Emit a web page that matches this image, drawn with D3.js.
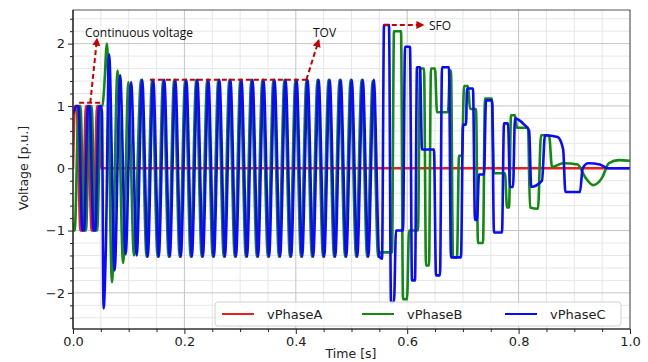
<!DOCTYPE html>
<html>
<head>
<meta charset="utf-8">
<script src="https://cdn.jsdelivr.net/npm/d3@7"></script>
<style>
  body { margin: 0; background: #fff; }
  text { font-family: "DejaVu Sans", sans-serif; }
  .note { font-family: "Open Sans", sans-serif; font-size: 12px; fill: #111; }
</style>
</head>
<body>
<script>
// ---- data: [time s, voltage p.u.] turning points ----
var phaseA = [[0,0],[0.0035,1],[0.0065,1],[0.0135,-1],[0.0165,-1],[0.0235,1],[0.0265,1],
  [0.0335,-1],[0.0365,-1],[0.0435,1],[0.0465,1],[0.0505,0],[0.2,0],[0.6,0],[1.0,0]];

var phaseB = [[0,-0.87],[0.0005,-1],[0.003,-1],[0.0102,1],[0.0132,1],[0.0202,-1],[0.0232,-1],
  [0.0302,1],[0.0332,1],[0.0402,-1],[0.0432,-1],[0.0502,1],[0.053,1],[0.056,1.3],
  [0.0610,2.0],[0.0700,-1.83],[0.0800,1.57],[0.0900,-1.52],[0.0995,1.38],[0.1095,-1.40],
  [0.1222,1.42],[0.1321,-1.42],[0.1420,1.42],[0.1519,-1.42],[0.1618,1.42],[0.1717,-1.42],
  [0.1816,1.42],[0.1915,-1.42],[0.2014,1.42],[0.2113,-1.42],[0.2212,1.42],[0.2311,-1.42],
  [0.2410,1.42],[0.2509,-1.42],[0.2608,1.42],[0.2707,-1.42],[0.2806,1.42],[0.2905,-1.42],
  [0.3004,1.42],[0.3103,-1.42],[0.3202,1.42],[0.3301,-1.42],[0.3400,1.42],[0.3499,-1.42],
  [0.3598,1.42],[0.3697,-1.42],[0.3796,1.42],[0.3895,-1.42],[0.3994,1.42],[0.4093,-1.42],
  [0.4192,1.42],[0.4291,-1.42],[0.4390,1.42],[0.4489,-1.42],[0.4588,1.42],[0.4687,-1.42],
  [0.4786,1.42],[0.4885,-1.42],[0.4984,1.42],[0.5083,-1.42],[0.5182,1.42],[0.5281,-1.42],
  [0.5380,1.40],[0.5479,-1.42],
  [0.552,-1.35],[0.5727,-1.35],[0.5763,2.2],[0.5889,2.2],[0.5925,-2.1],[0.5997,-2.1],
  [0.6033,-1.0],[0.6194,-1.0],[0.6230,1.6],[0.6302,1.6],[0.6338,-1.56],[0.6391,-1.56],
  [0.6427,1.6],[0.6499,1.6],[0.6535,0.9],[0.6732,0.9],[0.6768,1.57],[0.6786,1.57],
  [0.6822,-1.43],[0.6894,-1.43],[0.6930,0.2],[0.6984,0.2],[0.7020,1.32],[0.7092,1.32],
  [0.7128,0.95],[0.7235,0.95],[0.7271,-1.2],[0.7361,-1.2],[0.7397,1.12],[0.7522,1.12],
  [0.7558,-0.08],[0.7756,-0.08],[0.7792,-0.63],[0.7828,-0.63],[0.7864,0.85],[0.7935,0.85],
  [0.7971,0.65],[0.8169,0.65],[0.8205,-0.63],[0.8348,-0.65],[0.8402,0.53],[0.8546,0.53],
  [0.8600,0.02],[0.8797,0.08],[0.9060,0.06],[0.9200,-0.15],[0.9340,-0.27],[0.9500,-0.15],
  [0.9620,0.08],[0.9800,0.13],[1.0,0.12]];

var phaseC = [[0,0.87],[0.0068,1],[0.0098,1],[0.0168,-1],[0.0198,-1],[0.0268,1],[0.0298,1],
  [0.0368,-1],[0.0398,-1],[0.0468,1],[0.0498,1],[0.0520,0.9],[0.0549,-2.25],[0.0590,-1.27],
  [0.0648,1.83],[0.0747,-1.64],[0.0846,1.49],[0.0945,-1.38],[0.1044,1.38],[0.1143,-1.40],
  [0.1242,1.42],[0.1341,-1.42],[0.1440,1.42],[0.1539,-1.42],[0.1638,1.42],[0.1737,-1.42],
  [0.1836,1.42],[0.1935,-1.42],[0.2034,1.42],[0.2133,-1.42],[0.2232,1.42],[0.2331,-1.42],
  [0.2430,1.42],[0.2529,-1.42],[0.2628,1.42],[0.2727,-1.42],[0.2826,1.42],[0.2925,-1.42],
  [0.3024,1.42],[0.3123,-1.42],[0.3222,1.42],[0.3321,-1.42],[0.3420,1.42],[0.3519,-1.42],
  [0.3618,1.42],[0.3717,-1.42],[0.3816,1.42],[0.3915,-1.42],[0.4014,1.42],[0.4113,-1.42],
  [0.4212,1.42],[0.4311,-1.42],[0.4410,1.42],[0.4509,-1.42],[0.4608,1.42],[0.4707,-1.42],
  [0.4806,1.42],[0.4905,-1.42],[0.5004,1.42],[0.5103,-1.42],[0.5202,1.42],[0.5301,-1.42],
  [0.5400,1.42],[0.5499,-1.42],
  [0.5548,-1.45],[0.5584,2.3],[0.5673,2.3],[0.5709,-2.15],[0.5763,-2.15],[0.5799,-1.0],
  [0.5925,-1.0],[0.5961,1.95],[0.6050,1.95],[0.6086,-1.8],[0.6140,-1.8],[0.6176,1.62],
  [0.6230,1.62],[0.6266,0.3],[0.6481,0.3],[0.6517,-1.72],[0.6589,-1.72],[0.6625,1.62],
  [0.6750,1.62],[0.6786,-1.43],[0.6966,-1.43],[0.7002,0.7],[0.7056,0.7],[0.7074,1.28],
  [0.7181,1.28],[0.7217,-0.83],[0.7253,-0.83],[0.7289,-0.1],[0.7379,-0.1],[0.7415,1.09],
  [0.7522,1.09],[0.7558,-1.03],[0.7702,-1.03],[0.7738,0.72],[0.7810,0.72],[0.7846,-0.3],
  [0.7900,-0.3],[0.7935,0.8],[0.8100,0.7],[0.8190,0.6],[0.8226,-0.3],[0.8420,-0.2],
  [0.8474,0.53],[0.8700,0.5],[0.8800,0.3],[0.8840,-0.38],[0.9102,-0.38],[0.9150,0.0],
  [0.9250,0.08],[0.9460,0.06],[0.9600,0.0],[1.0,0.0]];

var seriesNames = ["vPhaseA", "vPhaseB", "vPhaseC"];
var seriesColors = ["#f01c1c", "#108a10", "#0a0aff"];
var xMajor = [0, 0.2, 0.4, 0.6, 0.8, 1.0];
var yMajor = [-2, -1, 0, 1, 2];

// ---- chart ----
var W = 648, H = 362;
var svg = d3.select("body").append("svg").attr("width", W).attr("height", H);

var x = d3.scaleLinear().domain([0, 1]).range([73, 630]);
var y = d3.scaleLinear().domain([-2.58, 2.54]).range([329, 10]);

var xMinor = d3.range(0, 1.0001, 0.05).filter(function(d) { return Math.abs(d * 5 - Math.round(d * 5)) > 1e-6; });
var yMinor = d3.range(-2.4, 2.41, 0.2).filter(function(d) { return Math.abs(d - Math.round(d)) > 1e-6; });

var grid = svg.append("g");
grid.selectAll(".vmin").data(xMinor).enter().append("line")
  .attr("x1", x).attr("x2", x).attr("y1", 10).attr("y2", 329)
  .attr("stroke", "#e6e6e6").attr("stroke-width", 1);
grid.selectAll(".hmin").data(yMinor).enter().append("line")
  .attr("y1", y).attr("y2", y).attr("x1", 73).attr("x2", 630)
  .attr("stroke", "#e6e6e6").attr("stroke-width", 1);
grid.selectAll(".vmaj").data(xMajor).enter().append("line")
  .attr("x1", x).attr("x2", x).attr("y1", 10).attr("y2", 329)
  .attr("stroke", "#c4c4c4").attr("stroke-width", 1);
grid.selectAll(".hmaj").data(yMajor).enter().append("line")
  .attr("y1", y).attr("y2", y).attr("x1", 73).attr("x2", 630)
  .attr("stroke", "#c4c4c4").attr("stroke-width", 1);

svg.append("clipPath").attr("id", "plot").append("rect")
  .attr("x", 73).attr("y", 10).attr("width", 557).attr("height", 319);

var line = d3.line()
  .x(function(d) { return x(d[0]); })
  .y(function(d) { return y(d[1]); })
  .curve(d3.curveMonotoneX);

svg.append("g").attr("clip-path", "url(#plot)")
  .selectAll("path").data([phaseA, phaseB, phaseC]).enter().append("path")
  .attr("d", line)
  .attr("fill", "none")
  .attr("stroke", function(d, i) { return seriesColors[i]; })
  .attr("stroke-width", 2.6)
  .attr("stroke-linejoin", "round");

// frame
svg.append("rect").attr("x", 73).attr("y", 10).attr("width", 557).attr("height", 319)
  .attr("fill", "none").attr("stroke", "#555").attr("stroke-width", 1);

// axes
function styleAxis(g) {
  g.select(".domain").remove();
  g.selectAll(".tick line").attr("stroke", "#222");
  g.selectAll(".tick text").attr("fill", "#222").style("font-size", "13px");
}
svg.append("g").attr("transform", "translate(0,329)")
  .call(d3.axisBottom(x).tickValues(xMajor).tickSize(5).tickPadding(3).tickFormat(d3.format(".1f")))
  .call(styleAxis);
svg.append("g").attr("transform", "translate(0,329)")
  .call(d3.axisBottom(x).tickValues(xMinor).tickSize(3).tickFormat(""))
  .call(styleAxis);
svg.append("g").attr("transform", "translate(73,0)")
  .call(d3.axisLeft(y).tickValues(yMajor).tickSize(5).tickPadding(3)
    .tickFormat(function(d) { return d < 0 ? "\u2212" + (-d) : d; }))
  .call(styleAxis);
svg.append("g").attr("transform", "translate(73,0)")
  .call(d3.axisLeft(y).tickValues(yMinor).tickSize(3).tickFormat(""))
  .call(styleAxis);
svg.append("line").attr("x1", 73).attr("x2", 73).attr("y1", 10).attr("y2", 329)
  .attr("stroke", "#222").attr("stroke-width", 1.2);
svg.append("line").attr("x1", 73).attr("x2", 630).attr("y1", 329).attr("y2", 329)
  .attr("stroke", "#222").attr("stroke-width", 1.2);

svg.append("text").attr("x", 351).attr("y", 358).attr("text-anchor", "middle")
  .style("font-size", "12.5px").attr("fill", "#222").text("Time [s]");
svg.append("text").attr("transform", "translate(28,168) rotate(-90)").attr("text-anchor", "middle")
  .style("font-size", "12.5px").attr("fill", "#222").text("Voltage [p.u.]");

// legend
var lg = svg.append("g");
lg.append("rect").attr("x", 215).attr("y", 302).attr("width", 406).attr("height", 24).attr("rx", 3)
  .attr("fill", "#fff").attr("fill-opacity", 0.85).attr("stroke", "#d0d0d0");
var legX = [222, 362, 505];
seriesNames.forEach(function(n, i) {
  lg.append("line").attr("x1", legX[i]).attr("x2", legX[i] + 32).attr("y1", 314).attr("y2", 314)
    .attr("stroke", seriesColors[i]).attr("stroke-width", 2);
  lg.append("text").attr("x", legX[i] + 45).attr("y", 319).style("font-size", "13px")
    .attr("fill", "#222").text(n);
});

// annotations
var red = "#c40000";
var defs = svg.append("defs");
defs.append("marker").attr("id", "ah").attr("viewBox", "0 0 10 10").attr("refX", 8).attr("refY", 5)
  .attr("markerWidth", 4).attr("markerHeight", 4).attr("orient", "auto")
  .append("path").attr("d", "M0,0L10,5L0,10z").attr("fill", red);
function dash(pts, arrow) {
  var p = svg.append("path").attr("d", d3.line()(pts)).attr("fill", "none")
    .attr("stroke", red).attr("stroke-width", 2).attr("stroke-dasharray", "5,3");
  if (arrow) p.attr("marker-end", "url(#ah)");
}
dash([[x(0.011), y(1.05)], [x(0.052), y(1.05)]]);
dash([[x(0.031), y(1.05)], [x(0.043), y(2.07)]], true);
dash([[x(0.138), y(1.42)], [x(0.419), y(1.42)]]);
dash([[x(0.419), y(1.42)], [x(0.441), y(2.05)]], true);
dash([[x(0.558), y(2.30)], [x(0.628), y(2.30)]], true);

svg.append("text").attr("class", "note").attr("x", 85).attr("y", 37).text("Continuous voltage");
svg.append("text").attr("class", "note").attr("x", 313).attr("y", 37).text("TOV");
svg.append("text").attr("class", "note").attr("x", 429).attr("y", 30).text("SFO");
</script>
</body>
</html>
